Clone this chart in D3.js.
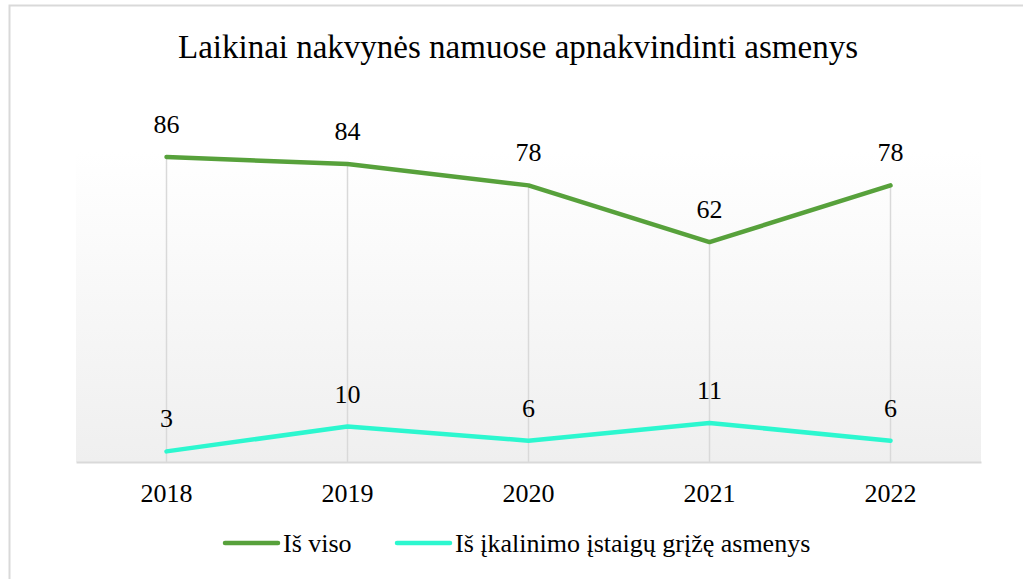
<!DOCTYPE html>
<html><head><meta charset="utf-8">
<script src="https://cdn.jsdelivr.net/npm/d3@7"></script>
<style>body{margin:0;background:#fff}svg{display:block}</style>
</head><body><svg id="c" width="1023" height="579" font-family="Liberation Serif"></svg>
<script>
const title = "Laikinai nakvynės namuose apnakvindinti asmenys";
const years = ["2018","2019","2020","2021","2022"];
const total = [86,84,78,62,78];
const prison = [3,10,6,11,6];
const seriesNames = ["Iš viso","Iš įkalinimo įstaigų grįžę asmenys"];
const colors = ["#57a13b","#2cf7cf"];
const FF = "Liberation Serif";

const svg = d3.select("#c");
const W=1023,H=579;
svg.append("rect").attr("x",9.5).attr("y",5.5).attr("width",W+10).attr("height",H+10)
  .attr("fill","#fff").attr("stroke","#d9d9d9").attr("stroke-width",2);

const pL=76,pR=981,pT=152,pB=462;
const x = d3.scaleBand().domain(years).range([pL,pR]);
const y = d3.scaleLinear().domain([0,86]).range([pB,157]);

const defs=svg.append("defs");
const g=defs.append("linearGradient").attr("id","bg").attr("x1",0).attr("x2",0).attr("y1",0).attr("y2",1);
g.append("stop").attr("offset","0%").attr("stop-color","#ffffff");
g.append("stop").attr("offset","100%").attr("stop-color","#efefef");
svg.append("rect").attr("x",pL).attr("y",pT).attr("width",pR-pL).attr("height",pB-pT).attr("fill","url(#bg)");

// vertical gridlines
svg.append("g").selectAll("line").data(years).join("line")
  .attr("x1",d=>x(d)+x.bandwidth()/2).attr("x2",d=>x(d)+x.bandwidth()/2)
  .attr("y1",d=>y(total[years.indexOf(d)])).attr("y2",pB)
  .attr("stroke","#d9d9d9").attr("stroke-width",1.5);

// axis
const ax = svg.append("g").attr("transform",`translate(0,${pB})`).call(d3.axisBottom(x).tickSize(0).tickPadding(22));
ax.attr("font-family",FF).attr("font-size",26);
ax.select(".domain").attr("stroke","#d9d9d9").attr("stroke-width",2);
ax.selectAll("text").attr("font-family",FF).attr("font-size",26).attr("fill","#000");

const line=d3.line().x((d,i)=>x(years[i])+x.bandwidth()/2).y(d=>y(d));
[total,prison].forEach((s,k)=>{
  svg.append("path").datum(s).attr("d",line).attr("fill","none")
    .attr("stroke",colors[k]).attr("stroke-width",4.5).attr("stroke-linecap","round").attr("stroke-linejoin","round");
  svg.append("g").selectAll("text").data(s).join("text")
    .attr("x",(d,i)=>x(years[i])+x.bandwidth()/2).attr("y",d=>y(d)-24)
    .attr("text-anchor","middle").attr("font-family",FF).attr("font-size",26).attr("fill","#000")
    .text(d=>d);
});

svg.append("text").attr("x",518).attr("y",58).attr("text-anchor","middle")
  .attr("font-family",FF).attr("font-size",33).attr("fill","#000").text(title);

// legend
const lg=[{x:225,tx:283},{x:397,tx:455}];
seriesNames.forEach((n,k)=>{
  svg.append("line").attr("x1",lg[k].x).attr("x2",lg[k].x+53).attr("y1",543).attr("y2",543)
    .attr("stroke",colors[k]).attr("stroke-width",4.5).attr("stroke-linecap","round");
  svg.append("text").attr("x",lg[k].tx).attr("y",552).attr("font-family",FF).attr("font-size",26).attr("fill","#000").text(n);
});
</script></body></html>
